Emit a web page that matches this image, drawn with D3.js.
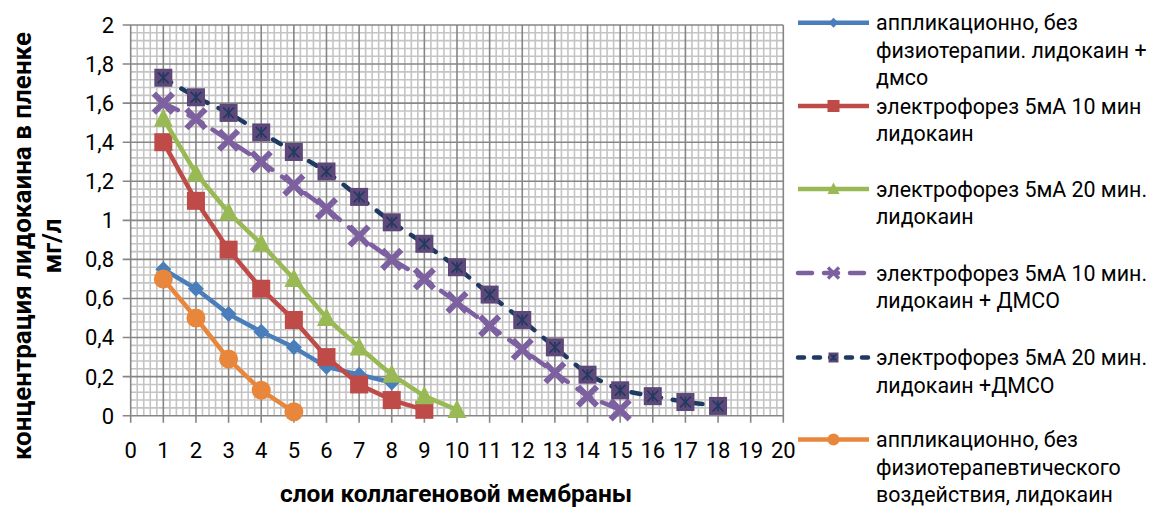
<!DOCTYPE html>
<html><head><meta charset="utf-8">
<script src="https://cdn.jsdelivr.net/npm/d3@7"></script>
<style>
body{margin:0;background:#fff;}
svg{display:block;}
text{font-family:Roboto, "Open Sans", sans-serif;fill:#000;}
</style></head>
<body>
<svg id="c" width="1153" height="508"></svg>
<script>
// ---- data ----
const xTickValues = [0,1,2,3,4,5,6,7,8,9,10,11,12,13,14,15,16,17,18,19,20];
const xTickLabels = ["0","1","2","3","4","5","6","7","8","9","10","11","12","13","14","15","16","17","18","19","20"];
const yTickValues = [0,0.2,0.4,0.6,0.8,1,1.2,1.4,1.6,1.8,2];
const yTickLabels = ["0","0,2","0,4","0,6","0,8","1","1,2","1,4","1,6","1,8","2"];

const seriesNames = [
  ["аппликационно, без","физиотерапии. лидокаин +","дмсо"],
  ["электрофорез 5мА 10 мин","лидокаин"],
  ["электрофорез 5мА 20 мин.","лидокаин"],
  ["электрофорез 5мА 10 мин.","лидокаин + ДМСО"],
  ["электрофорез 5мА 20 мин.","лидокаин +ДМСО"],
  ["аппликационно, без","физиотерапевтического","воздействия, лидокаин"]
];
const applDmso   = [0.75,0.65,0.52,0.43,0.35,0.25,0.21,0.17];
const el10       = [1.40,1.10,0.85,0.65,0.49,0.30,0.16,0.08,0.03];
const el20       = [1.52,1.24,1.04,0.88,0.70,0.50,0.35,0.21,0.10,0.03];
const el10Dmso   = [1.60,1.52,1.41,1.30,1.18,1.06,0.92,0.80,0.70,0.58,0.46,0.34,0.22,0.10,0.03];
const el20Dmso   = [1.73,1.63,1.55,1.45,1.35,1.25,1.12,0.99,0.88,0.76,0.62,0.49,0.35,0.21,0.13,0.10,0.07,0.05];
const applNo     = [0.70,0.50,0.29,0.13,0.02];

const seriesValues = [applDmso, el10, el20, el10Dmso, el20Dmso, applNo];
const colors = ["#4A7EBB","#BE4B48","#98B954","#7D60A0","#1F3A60","#E8873C"];
const markers = ["diamond","square","triangle","cross","starSquare","circle"];
const dashes = [null,null,null,"16,12","9,12",null];

// ---- layout ----
const svg = d3.select("#c");
const x = d3.scaleLinear().domain([0,20]).range([130.7,783.3]);
const y = d3.scaleLinear().domain([0,2]).range([415.7,25]);

// minor grid
const g = svg.append("g");
const minorX = d3.range(0,100).map(i=>i*0.2).filter(v=>Math.abs(v-Math.round(v))>1e-6);
const minorY = d3.range(0,50).map(i=>i*0.04).filter(v=>Math.abs(v*5-Math.round(v*5))>1e-6);
g.selectAll(".mx").data(minorX).join("line")
  .attr("x1",d=>x(d)).attr("x2",d=>x(d)).attr("y1",y(0)).attr("y2",y(2))
  .attr("stroke","#C4C4C4").attr("stroke-width",1.6);
g.selectAll(".my").data(minorY).join("line")
  .attr("x1",x(0)).attr("x2",x(20)).attr("y1",d=>y(d)).attr("y2",d=>y(d))
  .attr("stroke","#C4C4C4").attr("stroke-width",1.6);
// major grid + ticks
g.selectAll(".Mx").data(xTickValues).join("line")
  .attr("x1",d=>x(d)).attr("x2",d=>x(d)).attr("y1",y(2)).attr("y2",y(0)+7)
  .attr("stroke","#868686").attr("stroke-width",1.6);
g.selectAll(".My").data(yTickValues).join("line")
  .attr("x1",x(0)-8).attr("x2",x(20)).attr("y1",d=>y(d)).attr("y2",d=>y(d))
  .attr("stroke","#868686").attr("stroke-width",1.6);

// tick labels
svg.append("g").selectAll("text").data(yTickValues).join("text")
  .attr("x",114).attr("y",d=>y(d)).attr("dy","0.36em").attr("text-anchor","end")
  .attr("font-size",22).text((d,i)=>yTickLabels[i]);
svg.append("g").selectAll("text").data(xTickValues).join("text")
  .attr("x",d=>x(d)).attr("y",450).attr("dy","0.36em").attr("text-anchor","middle")
  .attr("font-size",22).text((d,i)=>xTickLabels[i]);

// axis titles
svg.append("text").attr("x",456).attr("y",493).attr("dy","0.35em").attr("text-anchor","middle")
  .attr("font-size",24.5).attr("font-weight","bold").text("слои коллагеновой мембраны");
const yt = svg.append("g").attr("transform","translate(22,246) rotate(-90)");
yt.append("text").attr("text-anchor","middle").attr("dy","0.35em")
  .attr("font-size",26).attr("font-weight","bold").text("концентрация лидокаина в пленке");
yt.append("text").attr("text-anchor","middle").attr("y",30).attr("dy","0.35em")
  .attr("font-size",26).attr("font-weight","bold").text("мг/л");

// marker drawing
function drawMarker(sel, type, color, s){
  if(type==="diamond"){
    sel.append("path").attr("d",`M0,${-s}L${s},0L0,${s}L${-s},0Z`).attr("fill",color);
  } else if(type==="square"){
    sel.append("rect").attr("x",-s).attr("y",-s).attr("width",2*s).attr("height",2*s).attr("fill",color);
  } else if(type==="triangle"){
    sel.append("path").attr("d",`M0,${-s*1.1}L${s},${s*0.85}L${-s},${s*0.85}Z`).attr("fill",color);
  } else if(type==="circle"){
    sel.append("circle").attr("r",s).attr("fill",color);
  } else if(type==="cross"){
    sel.append("path").attr("d",`M${-s},${-s}L${s},${s}M${s},${-s}L${-s},${s}`)
      .attr("stroke",color).attr("stroke-width",s*0.62).attr("fill","none");
  } else if(type==="starSquare"){
    sel.append("rect").attr("x",-s).attr("y",-s).attr("width",2*s).attr("height",2*s).attr("fill","#5E4879");
    const k=s*0.6;
    sel.append("path").attr("d",`M${-k},${-k}L${k},${k}M${k},${-k}L${-k},${k}M0,${-k}L0,${k}`)
      .attr("stroke","#1F3A60").attr("stroke-width",1.6).attr("fill","none");
  }
}
const markerSize = [8,9,9.5,9.5,9,9.5];
const legendMarkerSize = [5,6,6,5.5,5,6];

const line = d3.line().x((d,i)=>x(i+1)).y(d=>y(d));
seriesValues.forEach((vals,si)=>{
  const sg = svg.append("g");
  sg.append("path").datum(vals).attr("d",line).attr("fill","none")
    .attr("stroke",colors[si]).attr("stroke-width",4.5)
    .attr("stroke-linecap", dashes[si]?"round":"butt").attr("stroke-linejoin","round")
    .attr("stroke-dasharray",dashes[si]);
  sg.selectAll("g.m").data(vals).join("g").attr("class","m")
    .attr("transform",(d,i)=>`translate(${x(i+1)},${y(d)})`)
    .each(function(){ drawMarker(d3.select(this), markers[si], colors[si], markerSize[si]); });
});

// legend
const legY = [22.7,106,189,273,357.5,439.5];
const lg = svg.append("g");
seriesNames.forEach((lines,si)=>{
  const e = lg.append("g").attr("transform",`translate(0,${legY[si]})`);
  e.append("line").attr("x1",798).attr("x2",869).attr("y1",0).attr("y2",0)
    .attr("stroke",colors[si]).attr("stroke-width",4.5)
    .attr("stroke-linecap", dashes[si]?"round":"butt")
    .attr("stroke-dasharray", dashes[si] ? (si===3?"14,12":"6,10") : null);
  drawMarker(e.append("g").attr("transform","translate(833.5,0)"), markers[si], colors[si], legendMarkerSize[si]);
  const t = e.append("text").attr("x",876).attr("y",0).attr("font-size",21.4);
  lines.forEach((ln,li)=>{
    t.append("tspan").attr("x",876).attr("y",li*27.6).attr("dy","0.35em").text(ln);
  });
});
</script>
</body></html>
